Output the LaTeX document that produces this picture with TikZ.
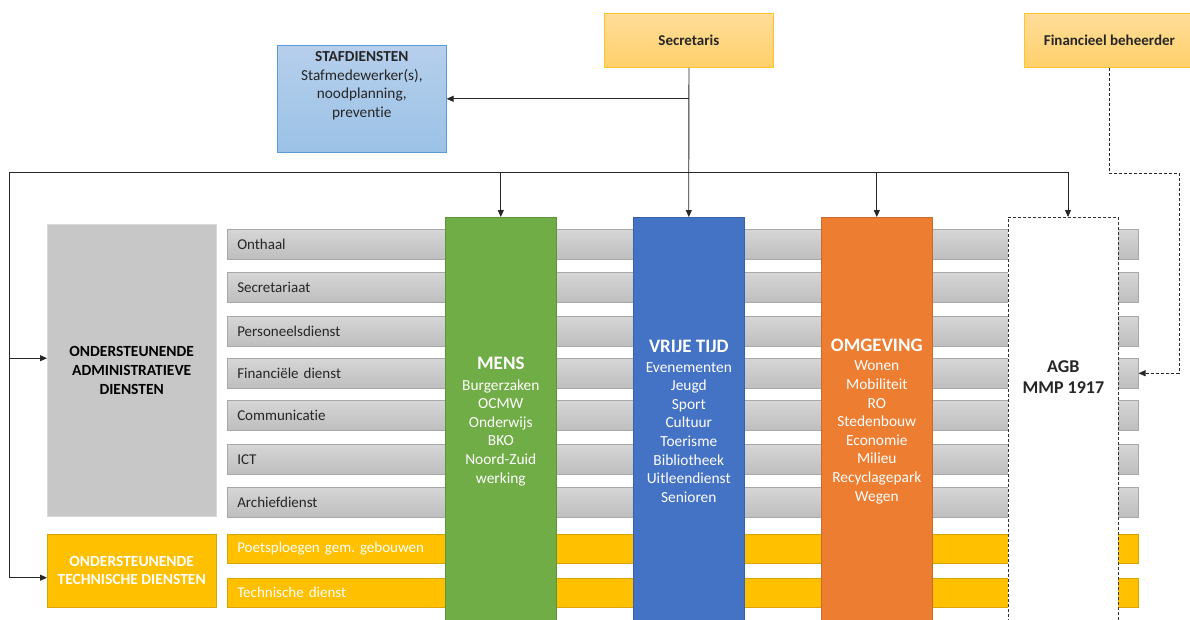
\documentclass[tikz,border=0pt]{standalone}
\usepackage{fontspec}
\setmainfont{Carlito}[Ligatures=NoCommon]
\usetikzlibrary{arrows.meta}
\definecolor{mensc}{HTML}{70AD47}
\definecolor{vrijec}{HTML}{4472C4}
\definecolor{omgc}{HTML}{ED7D31}
\definecolor{ylw}{HTML}{FFC000}
\definecolor{sectop}{HTML}{FFDD9A}
\definecolor{secbot}{HTML}{FFD06A}
\definecolor{secline}{HTML}{FFC32E}
\definecolor{stafftop}{HTML}{B6CFEC}
\definecolor{staffbot}{HTML}{9BC2E6}
\definecolor{staffline}{HTML}{5B9BD5}
\definecolor{bartop}{HTML}{D6D6D6}
\definecolor{barbot}{HTML}{BEBEBE}
\definecolor{barline}{HTML}{A8A8A8}
\definecolor{txt}{HTML}{262626}
\newcommand\coltitle{\bfseries\fontsize{19}{21}\selectfont}
\frenchspacing
\begin{document}
\begin{tikzpicture}[x=1pt,y=-1pt,
  arr/.style={-{Triangle[length=7pt,width=6pt]}, line width=0.8pt, draw=black!85},
  dasharr/.style={arr, dash pattern=on 3pt off 2pt},
  bar/.style={draw=barline, line width=0.5pt, top color=bartop, bottom color=barbot,
    minimum height=30pt, text width=891pt, inner xsep=10pt, align=left,
    anchor=north west, font=\fontsize{15}{18}\selectfont, text=txt},
  ybar/.style={bar, top color=ylw, bottom color=ylw, draw=ylw!85!black, text=white, minimum height=29pt},
  col/.style={minimum width=111pt, minimum height=408pt, anchor=north west, text=white,
    align=center, font=\fontsize{15.4}{18.6}\selectfont, line width=0.6pt},
  topbox/.style={draw=secline, line width=0.8pt, top color=sectop, bottom color=secbot,
    minimum width=169pt, minimum height=54pt, anchor=north west, text=txt,
    font=\bfseries\fontsize{15}{18}\selectfont}]
\useasboundingbox (0,0) rectangle (1190,619);
\fill[white] (0,0) rectangle (1190,619);

% top boxes
\node[topbox] (sec) at (604,13) {Secretaris};
\node[topbox, minimum width=170pt] (fin) at (1024,13) {Financieel beheerder};
\node[draw=staffline, line width=0.6pt, top color=stafftop, bottom color=staffbot,
  minimum width=169pt, minimum height=107pt, anchor=north west,
  label={[name=staftxt, anchor=north, yshift=-3pt, align=center, text=txt,
    font=\fontsize{15.3}{18.6}\selectfont]north:{\textbf{STAFDIENSTEN}\\Stafmedewerker(s),\\noodplanning,\\preventie}}]
  (staf) at (277,45) {};

% left boxes
\node[draw=black!15, fill=black!22, minimum width=169pt, minimum height=292pt,
  anchor=north west, align=center, text=black,
  font=\bfseries\fontsize{15.5}{19}\selectfont] (admin) at (47,224)
  {ONDERSTEUNENDE\\ADMINISTRATIEVE\\DIENSTEN};
\node[draw=ylw!85!black, fill=ylw, minimum width=169pt, minimum height=73pt,
  anchor=north west, align=center, text=white,
  font=\bfseries\fontsize{15.5}{18}\selectfont] (tech) at (47,534)
  {ONDERSTEUNENDE\\TECHNISCHE DIENSTEN};

% rows
\node[bar] (r1) at (227,229) {Onthaal};
\node[bar] (r2) at (227,272) {Secretariaat};
\node[bar] (r3) at (227,316) {Personeelsdienst};
\node[bar] (r4) at (227,358) {Financiële dienst};
\node[bar] (r5) at (227,400) {Communicatie};
\node[bar] (r6) at (227,444) {ICT};
\node[bar] (r7) at (227,487) {Archiefdienst};
\node[ybar] (r8) at (227,534) {Poetsploegen gem. gebouwen};
\node[ybar] (r9) at (227,578) {Technische dienst};

% columns
\node[col, fill=mensc, draw=mensc!85!black] (mens) at (445,217)
  {{\coltitle MENS}\\[2pt]Burgerzaken\\OCMW\\Onderwijs\\BKO\\Noord-Zuid\\werking};
\node[col, fill=vrijec, draw=vrijec!85!black] (vrije) at (633,217)
  {{\coltitle VRIJE TIJD}\\[1pt]Evenementen\\Jeugd\\Sport\\Cultuur\\Toerisme\\Bibliotheek\\Uitleendienst\\Senioren};
\node[col, fill=omgc, draw=omgc!85!black] (omg) at (821,217)
  {{\coltitle OMGEVING}\\[1pt]Wonen\\Mobiliteit\\RO\\Stedenbouw\\Economie\\Milieu\\Recyclagepark\\Wegen};
\node[draw=black!80, dash pattern=on 3pt off 2pt, line width=0.7pt, fill=white,
  minimum width=110pt, minimum height=408pt, anchor=north west,
  label={[name=agbtxt, yshift=44pt, align=center, text=txt,
    font=\bfseries\fontsize{18}{21}\selectfont]center:{AGB\\MMP 1917}}]
  (agb) at (1008,217) {};

% connectors
\coordinate (tl) at (9,172);
\coordinate (tr) at (1068,172);
\draw[line width=0.8pt, draw=black!85] (tl) -- (tr);
\draw[arr] (sec.south) -- (vrije.north);
\draw[arr] (sec.south |- staf.east) -- (staf.east);
\draw[arr] (mens.north |- tl) -- (mens.north);
\draw[arr] (omg.north |- tl) -- (omg.north);
\draw[arr] (tr) -- (tr |- agb.north);
\draw[arr] (tl) |- ([yshift=12pt]admin.west);
\draw[arr] (tl) |- ([yshift=-7pt]tech.west);
\coordinate (fd) at (1179,173);
\draw[dasharr] (fin.south) |- (fd) |- (r4.east);
\end{tikzpicture}
\end{document}
